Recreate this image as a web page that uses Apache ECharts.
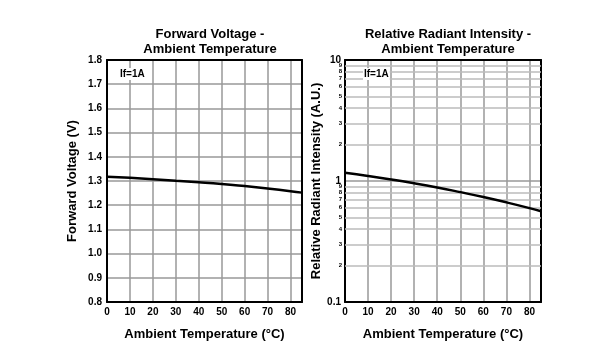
<!DOCTYPE html>
<html><head><meta charset="utf-8">
<script src="https://cdn.jsdelivr.net/npm/echarts@6/dist/echarts.min.js"></script>
<style>html,body{margin:0;padding:0;background:#fff}#c{width:595px;height:356px}</style>
</head><body><div id="c"></div>
<script>
const temps = [0, 10, 20, 30, 40, 50, 60, 70, 80, 85];
const forwardVoltage = [1.318, 1.313, 1.307, 1.301, 1.295, 1.288, 1.279, 1.269, 1.258, 1.252];
const radiantIntensity = [1.17, 1.102, 1.031, 0.958, 0.884, 0.809, 0.737, 0.666, 0.597, 0.562];
const logMinorTicks = [0.2, 0.3, 0.4, 0.5, 0.6, 0.7, 0.8, 0.9, 2, 3, 4, 5, 6, 7, 8, 9];
const xTickLabels = [0, 10, 20, 30, 40, 50, 60, 70, 80];

const FONT = 'Liberation Sans';
const chart = echarts.init(document.getElementById('c'), null, {renderer: 'canvas'});
const lbl = {fontFamily: FONT, fontWeight: 'bold', color: '#000', fontSize: 10};
const nameStyle = {fontFamily: FONT, fontWeight: 'bold', color: '#000', fontSize: 13};
const gridLine = {show: true, lineStyle: {color: '#999', width: 1.5}};

function xAx(gi) {
  return {
    type: 'value', gridIndex: gi, min: 0, max: 85, interval: 10,
    name: 'Ambient Temperature (°C)', nameLocation: 'middle', nameGap: 26, nameTextStyle: nameStyle,
    axisLine: {show: true, lineStyle: {color: '#000', width: 2}},
    axisTick: {show: false},
    axisLabel: Object.assign({margin: 5, formatter: v => xTickLabels.indexOf(v) >= 0 ? String(v) : ''}, lbl),
    splitLine: gridLine
  };
}
function xTop(gi) {
  return {type: 'value', gridIndex: gi, min: 0, max: 85, position: 'top',
    axisLine: {show: true, onZero: false, lineStyle: {color: '#000', width: 2}},
    axisTick: {show: false}, axisLabel: {show: false}, splitLine: {show: false}};
}

const option = {
  animation: false,
  backgroundColor: '#fff',
  title: [
    {text: 'Forward Voltage -\nAmbient Temperature', left: 205, top: 22, textAlign: 'center',
     textStyle: {fontFamily: FONT, fontWeight: 'bold', fontSize: 13, color: '#000', lineHeight: 15}},
    {text: 'Relative Radiant Intensity -\nAmbient Temperature', left: 443, top: 22, textAlign: 'center',
     textStyle: {fontFamily: FONT, fontWeight: 'bold', fontSize: 13, color: '#000', lineHeight: 15}}
  ],
  grid: [
    {left: 107, top: 60, width: 195, height: 242},
    {left: 345, top: 60, width: 196, height: 242}
  ],
  xAxis: [xAx(0), xAx(1), xTop(0), xTop(1)],
  yAxis: [
    {type: 'value', gridIndex: 0, min: 0.8, max: 1.8, interval: 0.1,
     name: 'Forward Voltage (V)', nameLocation: 'middle', nameGap: 28, nameTextStyle: nameStyle,
     axisLine: {show: true, lineStyle: {color: '#000', width: 2}}, axisTick: {show: false},
     axisLabel: Object.assign({margin: 5, formatter: v => v.toFixed(1)}, lbl), splitLine: gridLine},
    {type: 'log', logBase: 10, gridIndex: 1, min: 0.1, max: 10,
     name: 'Relative Radiant Intensity (A.U.)', nameLocation: 'middle', nameGap: 22, nameTextStyle: nameStyle,
     axisLine: {show: true, lineStyle: {color: '#000', width: 2}}, axisTick: {show: false},
     axisLabel: Object.assign({margin: 4, formatter: v => String(+v.toPrecision(3))}, lbl), splitLine: gridLine},
    {type: 'value', gridIndex: 0, min: 0.8, max: 1.8, position: 'right',
     axisLine: {show: true, onZero: false, lineStyle: {color: '#000', width: 2}},
     axisTick: {show: false}, axisLabel: {show: false}, splitLine: {show: false}},
    {type: 'log', gridIndex: 1, min: 0.1, max: 10, position: 'right',
     axisLine: {show: true, onZero: false, lineStyle: {color: '#000', width: 2}},
     axisTick: {show: false}, axisLabel: {show: false}, splitLine: {show: false}}
  ],
  graphic: [
    {type: 'text', left: 119, top: 68, z: 100,
     style: {text: 'If=1A', font: 'bold 10px "Liberation Sans"', fill: '#000', backgroundColor: '#fff', padding: [1, 1]}},
    {type: 'text', left: 363, top: 68, z: 100,
     style: {text: 'If=1A', font: 'bold 10px "Liberation Sans"', fill: '#000', backgroundColor: '#fff', padding: [1, 1]}}
  ],
  series: [
    {type: 'line', xAxisIndex: 0, yAxisIndex: 0, showSymbol: false, smooth: true,
     lineStyle: {color: '#000', width: 2.5}, z: 5,
     data: temps.map((t, i) => [t, forwardVoltage[i]])},
    {type: 'line', xAxisIndex: 1, yAxisIndex: 1, showSymbol: false, smooth: true,
     lineStyle: {color: '#000', width: 2.5}, z: 5,
     data: temps.map((t, i) => [t, radiantIntensity[i]]),
     markLine: {
       silent: true, symbol: 'none', animation: false, z: 2,
       lineStyle: {color: '#bbb', width: 1.5, type: 'solid'},
       label: {show: true, position: 'start', distance: 3, fontFamily: FONT, fontWeight: 'bold', fontSize: 6, color: '#000',
               formatter: p => String(p.value < 1 ? Math.round(p.value * 10) : Math.round(p.value))},
       data: logMinorTicks.map(v => ({yAxis: v}))
     }}
  ]
};
chart.setOption(option);
</script></body></html>
